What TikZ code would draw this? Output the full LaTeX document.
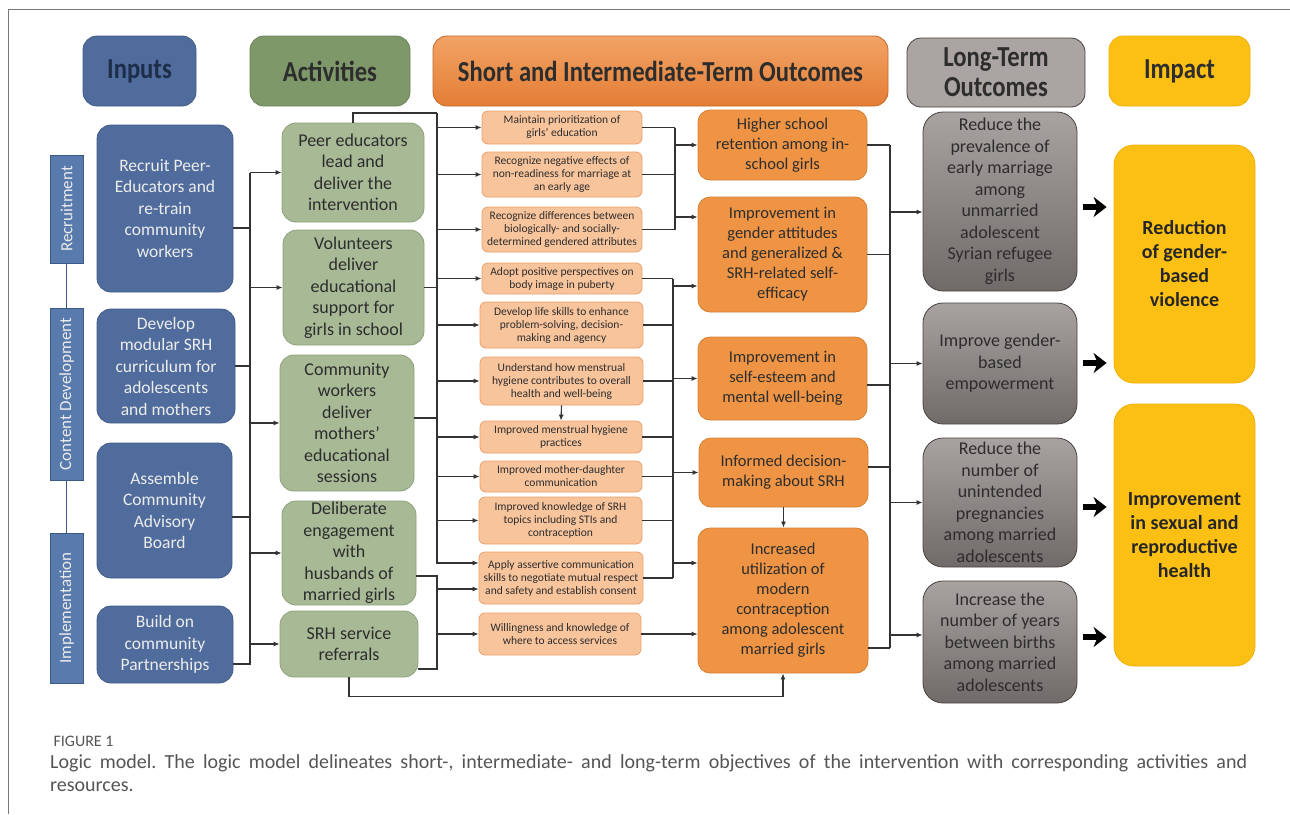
\documentclass[tikz,border=0pt]{standalone}
\usepackage{fontspec}
\setmainfont{Carlito}
\newfontfamily\headfont{Carlito}[FakeStretch=0.85]
\usetikzlibrary{positioning, arrows.meta, calc}
\definecolor{inpcol}{RGB}{80,108,156}
\definecolor{inpedge}{RGB}{66,92,138}
\definecolor{sidecol}{RGB}{88,122,172}
\definecolor{sideedge}{RGB}{60,90,135}
\definecolor{hdract}{RGB}{126,152,106}
\definecolor{actcol}{RGB}{168,185,150}
\definecolor{actedge}{RGB}{140,160,122}
\definecolor{orgtop}{RGB}{241,163,102}
\definecolor{orgbot}{RGB}{228,125,52}
\definecolor{orgedge}{RGB}{196,104,40}
\definecolor{smcol}{RGB}{248,196,156}
\definecolor{smedge}{RGB}{236,160,106}
\definecolor{midcol}{RGB}{238,148,68}
\definecolor{midedge}{RGB}{214,128,52}
\definecolor{lngtop}{RGB}{168,162,160}
\definecolor{lngbot}{RGB}{112,106,104}
\definecolor{lngedge}{RGB}{72,68,66}
\definecolor{hdrlng}{RGB}{170,164,162}
\definecolor{impcol}{RGB}{252,192,20}
\definecolor{impedge}{RGB}{240,176,10}
\definecolor{linecol}{RGB}{51,51,51}
\definecolor{txtdark}{RGB}{45,45,45}
\definecolor{inptext}{RGB}{236,236,236}
\definecolor{hdrnavy}{RGB}{30,45,74}
\definecolor{capgray}{RGB}{85,85,85}
\definecolor{framecol}{RGB}{120,120,120}

\begin{document}
\begin{tikzpicture}[x=1pt, y=-1pt,
      box/.style={rounded corners=14pt, align=center, inner sep=0pt, line width=0.8pt},
      hdr/.style={box, font=\headfont\bfseries\fontsize{29}{30}\selectfont, text=txtdark},
      side/.style={draw=sideedge, fill=sidecol, rotate=90, inner sep=0pt, text=inptext, font=\fontsize{17}{20}\selectfont},
      inp/.style={box, draw=inpedge, fill=inpcol, text=inptext, font=\fontsize{17.5}{21.5}\selectfont},
      act/.style={box, draw=actedge, fill=actcol, text=txtdark, font=\fontsize{18}{21.5}\selectfont},
      sm/.style={box, rounded corners=6pt, draw=smedge, fill=smcol, text=txtdark, font=\fontsize{11.5}{13}\selectfont},
      mid/.style={box, rounded corners=12pt, draw=midedge, fill=midcol, text=txtdark, font=\fontsize{16.5}{20}\selectfont},
      lng/.style={box, rounded corners=20pt, draw=lngedge, top color=lngtop, bottom color=lngbot, text=txtdark, font=\fontsize{18}{21.5}\selectfont},
      imp/.style={box, rounded corners=20pt, draw=impedge, fill=impcol, text=black!85, font=\bfseries\fontsize{20}{24}\selectfont},
      link/.style={draw=linecol, line width=1.1pt},
      arr/.style={link, -{Latex[length=6pt,width=5pt]}},
      blk/.style={draw=black, line width=6pt, -{Stealth[length=13pt,width=20pt,inset=4pt]}, shorten <=6pt, shorten >=7pt}]
    \useasboundingbox (0,0) rectangle (1290,814);
    \fill[white] (0,0) rectangle (1290,814);
    \draw[framecol, line width=0.8pt] (8,814) -- (8,9) -- (1290,9);

    \node[hdr, fill=inpcol, draw=inpedge, text=hdrnavy, minimum width=113pt, minimum height=70pt] (hinputs) at (139.5,71) {Inputs};
    \node[hdr, fill=hdract, draw=hdract!85!black, minimum width=160pt, minimum height=70pt] (hact) at (330,71) {Activities};
    \node[hdr, top color=orgtop, bottom color=orgbot, draw=orgedge, minimum width=455pt, minimum height=70pt] (hshort) at (660.5,71) {Short and Intermediate-Term Outcomes};
    \node[hdr, fill=hdrlng, draw=lngedge, minimum width=178pt, minimum height=69pt] (hlong) at (996,72.5) {Long-Term\\Outcomes};
    \node[hdr, fill=impcol, draw=impedge, minimum width=141pt, minimum height=70pt] (himpact) at (1179.5,71) {Impact};

    \node[side, minimum width=108pt, minimum height=33pt] (siderec) at (66.5,209) {Recruitment};
    \node[side, minimum width=172pt, minimum height=33pt] (sidecon) at (66.5,394) {Content Development};
    \node[side, minimum width=150pt, minimum height=33pt] (sideimp) at (66.5,608) {Implementation};
    \draw[sideedge, line width=1pt] (siderec.west) -- (sidecon.east);
    \draw[sideedge, line width=1pt] (sidecon.west) -- (sideimp.east);

    \node[inp, minimum width=136pt, minimum height=167pt] (inrec) at (165,208.5) {Recruit Peer-\\Educators and\\re-train\\community\\workers};
    \node[inp, minimum width=138pt, minimum height=114pt] (indev) at (166,366) {Develop\\modular SRH\\curriculum for\\adolescents\\and mothers};
    \node[inp, minimum width=135pt, minimum height=135pt] (inass) at (164.5,510.5) {Assemble\\Community\\Advisory\\Board};
    \node[inp, minimum width=136pt, minimum height=77pt] (inbld) at (165,644.5) {Build on\\community\\Partnerships};

    \node[act, minimum width=142pt, minimum height=99pt] (peer) at (353,172.5) {Peer educators\\lead and\\deliver the\\intervention};
    \node[act, minimum width=141pt, minimum height=115pt] (volun) at (353.5,287.5) {Volunteers\\deliver\\educational\\support for\\girls in school};
    \node[act, minimum width=134pt, minimum height=136pt] (commty) at (347,423) {Community\\workers\\deliver\\mothers’\\educational\\sessions};
    \node[act, minimum width=134pt, minimum height=104pt] (delib) at (349,553) {Deliberate\\engagement\\with\\husbands of\\married girls};
    \node[act, minimum width=138pt, minimum height=66pt] (srh) at (349,644) {SRH service\\referrals};

    \node[sm, minimum width=160pt, minimum height=33pt] (maintain) at (562,127.5) {Maintain prioritization of\\girls’ education};
    \node[sm, minimum width=160pt, minimum height=45pt] (recneg) at (562,174.5) {Recognize negative effects of\\non-readiness for marriage at\\an early age};
    \node[sm, minimum width=160pt, minimum height=45pt] (recdiff) at (562,229.5) {Recognize differences between\\biologically- and socially-\\determined gendered attributes};
    \node[sm, minimum width=160pt, minimum height=31pt] (adopt) at (562,278.5) {Adopt positive perspectives on\\body image in puberty};
    \node[sm, minimum width=163pt, minimum height=46pt] (devlife) at (561.5,325) {Develop life skills to enhance\\problem-solving, decision-\\making and agency};
    \node[sm, minimum width=163pt, minimum height=48pt] (underst) at (561.5,381) {Understand how menstrual\\hygiene contributes to overall\\health and well-being};
    \node[sm, minimum width=162pt, minimum height=32pt] (menstr) at (561,437) {Improved menstrual hygiene\\practices};
    \node[sm, minimum width=162pt, minimum height=31pt] (motherd) at (561,476.5) {Improved mother-daughter\\communication};
    \node[sm, minimum width=163pt, minimum height=47pt] (knowl) at (560.5,520.5) {Improved knowledge of SRH\\topics including STIs and\\contraception};
    \node[sm, minimum width=164pt, minimum height=52pt] (apply) at (561,578) {Apply assertive communication\\skills to negotiate mutual respect\\and safety and establish consent};
    \node[sm, minimum width=162pt, minimum height=42pt] (willing) at (560,634) {Willingness and knowledge of\\where to access services};

    \node[mid, minimum width=169pt, minimum height=70pt] (higher) at (782.5,145) {Higher school\\retention among in-\\school girls};
    \node[mid, minimum width=169pt, minimum height=115pt] (gender) at (782.5,254.5) {Improvement in\\gender attitudes\\and generalized \&\\SRH-related self-\\efficacy};
    \node[mid, minimum width=169pt, minimum height=83pt] (selfest) at (782.5,378.5) {Improvement in\\self-esteem and\\mental well-being};
    \node[mid, minimum width=169pt, minimum height=69pt] (informed) at (783.5,472.5) {Informed decision-\\making about SRH};
    \node[mid, minimum width=170pt, minimum height=145pt] (increased) at (783,600.5) {Increased\\utilization of\\modern\\contraception\\among adolescent\\married girls};

    \node[lng, minimum width=154pt, minimum height=179pt] (lreduce) at (1000,201.5) {Reduce the\\prevalence of\\early marriage\\among\\unmarried\\adolescent\\Syrian refugee\\girls};
    \node[lng, minimum width=154pt, minimum height=121pt] (lgender) at (1000,363.5) {Improve gender-\\based\\empowerment};
    \node[lng, minimum width=154pt, minimum height=129pt] (lpreg) at (1000,502.5) {Reduce the\\number of\\unintended\\pregnancies\\among married\\adolescents};
    \node[lng, minimum width=154pt, minimum height=122pt] (lyears) at (1000,642) {Increase the\\number of years\\between births\\among married\\adolescents};

    \node[imp, minimum width=141pt, minimum height=238pt] (reduction) at (1184.5,264) {Reduction\\of gender-\\based\\violence};
    \node[imp, minimum width=141pt, minimum height=262pt] (improvesrh) at (1184.5,535) {Improvement\\in sexual and\\reproductive\\health};

    \coordinate (ibt) at (250,173);
    \draw[link] (inrec.east |- 0,228) -| (ibt);
    \draw[link] (indev.east) -| (ibt);
    \draw[link] (inass.east |- 0,517) -| (ibt);
    \draw[link] (inbld.east |- 0,664) -| (ibt);
    \foreach \n in {peer, volun, commty, delib, srh}
      \draw[arr] (ibt |- \n.west) -- (\n.west);

    \coordinate (abt) at (437,113);
    \draw[link] (peer.north) |- (abt);
    \draw[link] (volun.east) -| (abt);
    \draw[link] (commty.east |- 0,418) -| (abt);
    \draw[arr] (abt) |- (apply.west |- 0,563);
    \foreach \n in {maintain, recneg, recdiff, adopt, devlife, underst, menstr, motherd, knowl}
      \draw[arr] (abt |- \n.west) -- (\n.west);
    \coordinate (abb) at (437,669);
    \draw[link] (delib.east |- 0,576) -| (abb) -- (srh.east |- abb);
    \draw[arr] (abb |- 0,589) -- (apply.west |- 0,589);
    \draw[arr] (abb |- willing.west) -- (willing.west);
    \draw[arr] (srh.south) -- ++(0,19) -| (increased.south);
    \draw[arr] (underst.south) -- (menstr.north);

    \coordinate (sb1) at (675,0);
    \foreach \n in {maintain, recneg, recdiff}
      \draw[link] (\n.east) -- (\n.east -| sb1);
    \draw[link] (maintain.east -| sb1) -- (recdiff.east -| sb1);
    \draw[arr] (sb1 |- higher.west) -- (higher.west);
    \draw[arr] (sb1 |- 0,217) -- (gender.west |- 0,217);
    \coordinate (sb2) at (673,0);
    \foreach \n in {adopt, devlife, underst, menstr, motherd, knowl, apply}
      \draw[link] (\n.east) -- (\n.east -| sb2);
    \draw[link] (adopt.east -| sb2) -- (apply.east -| sb2);
    \draw[arr] (sb2 |- 0,286) -- (gender.west |- 0,286);
    \draw[arr] (sb2 |- selfest.west) -- (selfest.west);
    \draw[arr] (sb2 |- informed.west) -- (informed.west);
    \draw[arr] (sb2 |- 0,563) -- (increased.west |- 0,563);
    \draw[arr] (willing.east) -- (willing.east -| increased.west);
    \draw[arr] (informed.south) -- (informed.south |- increased.north);

    \coordinate (mb) at (890,0);
    \draw[link] (higher.east) -- (higher.east -| mb);
    \draw[link] (gender.east) -- (gender.east -| mb);
    \draw[link] (selfest.east |- 0,385) -- (mb |- 0,385);
    \draw[link] (informed.east |- 0,467) -- (mb |- 0,467);
    \draw[link] (increased.east |- 0,648) -- (mb |- 0,648);
    \draw[link] (higher.east -| mb) -- (mb |- 0,648);
    \draw[arr] (mb |- 0,212) -- (lreduce.west |- 0,212);
    \draw[arr] (mb |- lgender.west) -- (lgender.west);
    \draw[arr] (mb |- lpreg.west) -- (lpreg.west);
    \draw[arr] (mb |- 0,635) -- (lyears.west |- 0,635);

    \draw[blk] (lreduce.east |- 0,207) -- (reduction.west |- 0,207);
    \draw[blk] (lgender.east |- 0,363) -- (reduction.west |- 0,363);
    \draw[blk] (lpreg.east |- 0,507) -- (improvesrh.west |- 0,507);
    \draw[blk] (lyears.east |- 0,637) -- (improvesrh.west |- 0,637);

    \node[anchor=west, text=capgray, font=\fontsize{16}{18}\selectfont] (figlab) at (50,741) {FIGURE 1};
    \node[anchor=north west, text width=1197pt, align=justify, inner sep=0pt, text=capgray, font=\fontsize{20}{23}\selectfont\frenchspacing] (caption) at (50,754) {Logic model. The logic model delineates short-, intermediate- and long-term objectives of the intervention with corresponding activities and\linebreak resources.};
  \end{tikzpicture}
\end{document}
